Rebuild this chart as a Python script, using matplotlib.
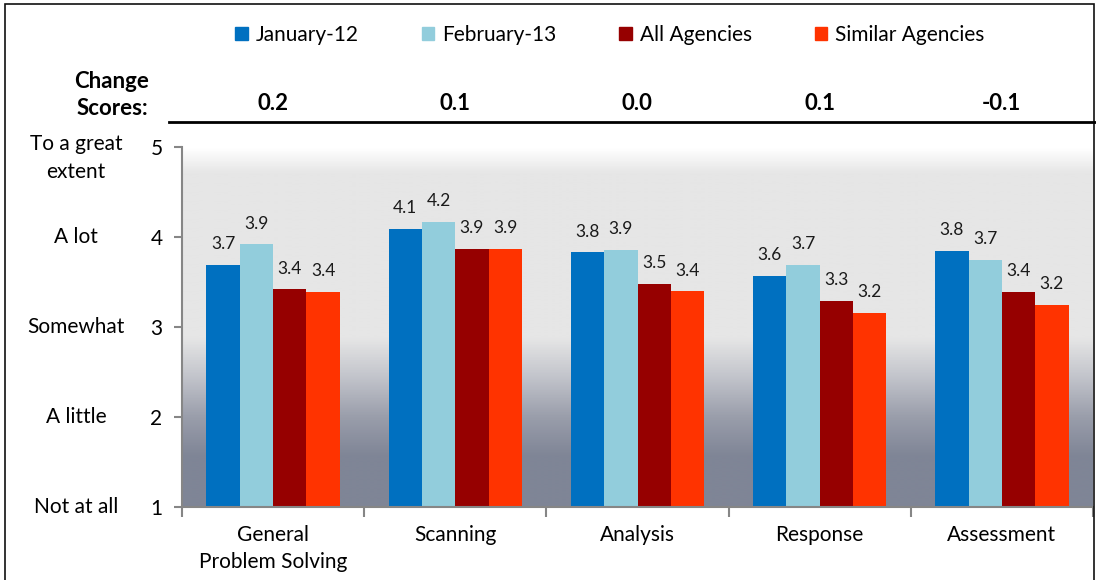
import numpy as np
import matplotlib.pyplot as plt
from matplotlib.colors import LinearSegmentedColormap
from matplotlib.patches import Rectangle
from matplotlib.lines import Line2D

plt.rcParams['font.family'] = ['Lato', 'DejaVu Sans']

categories = ['General\nProblem Solving', 'Scanning', 'Analysis', 'Response', 'Assessment']
series = ['January-12', 'February-13', 'All Agencies', 'Similar Agencies']
jan = [3.69, 4.09, 3.83, 3.57, 3.85]
feb = [3.92, 4.17, 3.86, 3.69, 3.75]
all_ag = [3.42, 3.87, 3.48, 3.29, 3.39]
similar = [3.39, 3.87, 3.40, 3.16, 3.25]
jan_lbl = ['3.7', '4.1', '3.8', '3.6', '3.8']
feb_lbl = ['3.9', '4.2', '3.9', '3.7', '3.7']
all_lbl = ['3.4', '3.9', '3.5', '3.3', '3.4']
sim_lbl = ['3.4', '3.9', '3.4', '3.2', '3.2']
change_scores = ['0.2', '0.1', '0.0', '0.1', '-0.1']
scale_labels = ['Not at all', 'A little', 'Somewhat', 'A lot', 'To a great\nextent']
colors = ['#0070c0', '#92cddc', '#960000', '#ff3300']

W, H = 1096, 580
fig = plt.figure(figsize=(W / 100, H / 100), dpi=100)
ax = fig.add_axes([182 / W, (H - 507) / H, (1093 - 182) / W, 360 / H])

# background gradient
grad = LinearSegmentedColormap.from_list('bg', [
    (0.0, '#7f8596'), (0.139, '#7f8596'), (0.25, '#9a9eab'),
    (0.36, '#c2c4cb'), (0.47, '#e6e6e6'), (0.93, '#e6e6e6'), (1.0, '#ffffff')])
g = np.linspace(0, 1, 400).reshape(-1, 1)
ax.imshow(g, aspect='auto', cmap=grad, origin='lower',
          extent=[-0.5, 4.5, 1, 5], zorder=0, interpolation='bilinear')

x = np.arange(len(categories))
w = 0.183
vals = [jan, feb, all_ag, similar]
lbls = [jan_lbl, feb_lbl, all_lbl, sim_lbl]
for j in range(4):
    xs = x + (j - 1.5) * w
    ax.bar(xs, np.array(vals[j]) - 1, bottom=1, width=w, color=colors[j], zorder=2)
    for xi, v, t in zip(xs, vals[j], lbls[j]):
        ax.annotate(t, (xi, v), xytext=(0, 9), textcoords='offset points',
                    ha='center', va='bottom', fontsize=12.5, color='#1a1a1a')

ax.set_xlim(-0.5, 4.5)
ax.set_ylim(1, 5)
for s in ['top', 'right']:
    ax.spines[s].set_visible(False)
for s in ['left', 'bottom']:
    ax.spines[s].set_color('#868686')
    ax.spines[s].set_linewidth(1.5)
ax.set_yticks([1, 2, 3, 4, 5])
ax.set_yticklabels(['1', '2', '3', '4', '5'], fontsize=15)
ax.tick_params(axis='y', length=6, color='#868686', width=1.5, pad=8)
ax.set_xticks(x)
ax.set_xticklabels(categories, fontsize=15, linespacing=1.45)
ax.tick_params(axis='x', length=0, pad=13)
ax.set_xticks(np.arange(-0.5, 5, 1), minor=True)
ax.tick_params(axis='x', which='minor', length=7, color='#868686', width=1.5)

for yv, t in zip([1, 2, 3, 4, 5], scale_labels):
    yy = (H - (507 - (yv - 1) * 90)) / H
    if yv == 5:
        yy = (H - 158) / H
    fig.text(76 / W, yy, t, fontsize=15, ha='center', va='center', linespacing=1.45)

# change scores row
fig.text(112 / W, (H - 95) / H, 'Change\nScores:', fontsize=16, fontweight='bold',
         ha='center', va='center', linespacing=1.4)
for i, c in enumerate(change_scores):
    fig.text((182 + 91 + i * 182.2) / W, (H - 104) / H, c, fontsize=16,
             fontweight='bold', ha='center', va='center')
fig.add_artist(Line2D([169 / W, 1096 / W], [(H - 122) / H] * 2, color='black', lw=2))

# frame
fig.add_artist(Rectangle((5 / W, -0.05), (1094 - 5) / W, 1.05 - 4 / H, fill=False,
                         edgecolor='#111111', lw=1.2, transform=fig.transFigure))

handles = [Rectangle((0, 0), 1, 1, color=c) for c in colors]
fig.legend(handles, series, loc='center', bbox_to_anchor=(610 / W, (H - 35) / H),
           ncol=4, frameon=False, fontsize=15, handlelength=0.6, handleheight=0.6,
           handletextpad=0.4, columnspacing=3.0)

fig.savefig('out.png', dpi=100)
